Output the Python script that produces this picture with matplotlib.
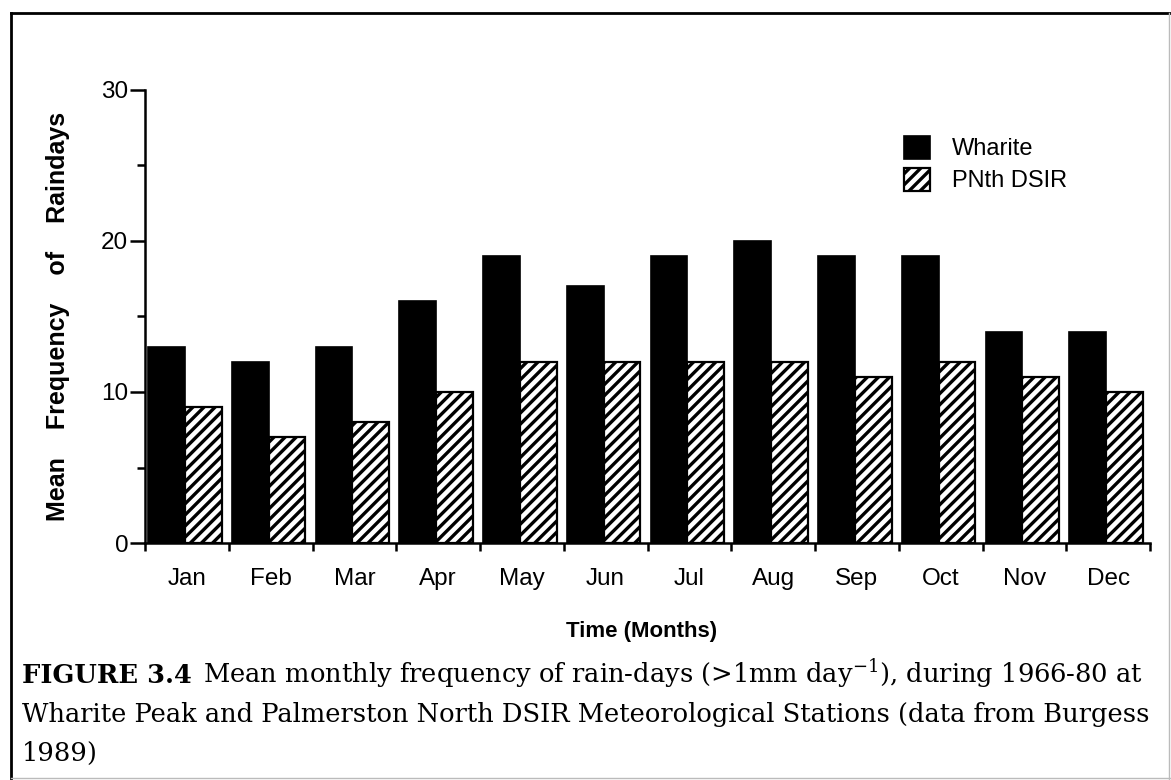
import matplotlib
matplotlib.use("Agg")
import matplotlib.pyplot as plt
from matplotlib.lines import Line2D
import numpy as np

months = ["Jan", "Feb", "Mar", "Apr", "May", "Jun", "Jul", "Aug", "Sep", "Oct", "Nov", "Dec"]
wharite = [13, 12, 13, 16, 19, 17, 19, 20, 19, 19, 14, 14]
pnth_dsir = [9, 7, 8, 10, 12, 12, 12, 12, 11, 12, 11, 10]
series_names = ["Wharite", "PNth DSIR"]

W, H = 1171, 780
fig = plt.figure(figsize=(W / 100, H / 100), dpi=100)
fig.patch.set_facecolor("white")

ax = fig.add_axes([145 / W, 1 - 543 / H, (1150 - 145) / W, (543 - 90) / H])

plt.rcParams["hatch.linewidth"] = 2.4
x = np.arange(len(months))
bw = 0.44
off = -0.5 + 0.036
ax.bar(x + off, wharite, width=bw, align="edge", color="black",
       edgecolor="black", linewidth=1.2, label=series_names[0])
ax.bar(x + off + bw, pnth_dsir, width=bw, align="edge", color="white",
       edgecolor="black", hatch="///", linewidth=1.6, label=series_names[1])

ax.set_xlim(-0.5, len(months) - 0.5)
ax.set_ylim(0, 30)

for s in ["top", "right"]:
    ax.spines[s].set_visible(False)
for s in ["left", "bottom"]:
    ax.spines[s].set_linewidth(1.8)

sans = "Liberation Sans"
ax.set_yticks([0, 10, 20, 30])
ax.set_yticks([5, 15, 25], minor=True)
ax.tick_params(axis="y", which="major", length=11, width=1.8, pad=1,
               labelsize=17.5, direction="out")
ax.tick_params(axis="y", which="minor", length=6, width=1.8, direction="out")

ax.set_xticks(np.arange(-0.5, len(months), 1.0))
ax.set_xticklabels([])
ax.set_xticks(x, minor=True)
ax.set_xticklabels(months, minor=True)
ax.tick_params(axis="x", which="major", length=6, width=1.8, direction="out")
ax.tick_params(axis="x", which="minor", length=0, pad=18, labelsize=17.5)

for lab in ax.get_xticklabels(minor=True) + ax.get_yticklabels():
    lab.set_fontfamily(sans)

ax.set_ylabel("Mean    Frequency    of    Raindays", fontfamily=sans,
              fontweight="bold", fontsize=18)
ax.yaxis.set_label_coords(-(145 - 58) / (1150 - 145), (543 - 316) / (543 - 90))
ax.set_xlabel("Time (Months)", fontfamily=sans, fontweight="bold", fontsize=16)
ax.xaxis.set_label_coords((642 - 145) / (1150 - 145), -(632 - 543) / (543 - 90))
ax.xaxis.label.set_va("center")
ax.yaxis.label.set_va("center")

ax.legend(loc="upper left", bbox_to_anchor=(904 / W, 1 - 136 / H),
          bbox_transform=fig.transFigure, frameon=False,
          prop={"family": sans, "size": 17},
          handlelength=1.08, handleheight=1.1, handletextpad=0.95,
          labelspacing=0.32, borderaxespad=0, borderpad=0)

# caption
serif = "DejaVu Serif"
renderer = fig.canvas.get_renderer()
line2 = "Wharite Peak and Palmerston North DSIR Meteorological Stations (data from Burgess"
probe = fig.text(0, 0, line2, fontfamily=serif, fontsize=20)
w20 = probe.get_window_extent(renderer).width
probe.remove()
cap_size = 20 * 1128 / w20

x0 = 22 / W
t_bold = fig.text(x0, 1 - 683 / H, "FIGURE 3.4", fontfamily=serif,
                  fontweight="bold", fontsize=cap_size, va="baseline", ha="left")
bw_px = t_bold.get_window_extent(renderer).width
fig.text(x0 + (bw_px + 11) / W, 1 - 683 / H,
         r"Mean monthly frequency of rain-days (>1mm day$^{\mathregular{-1}}$), during 1966-80 at",
         fontfamily=serif, fontsize=cap_size, va="baseline", ha="left",
         math_fontfamily="dejavuserif")
fig.text(x0, 1 - 722 / H, line2,
         fontfamily=serif, fontsize=cap_size, va="baseline", ha="left")
fig.text(x0, 1 - 761 / H, "1989)",
         fontfamily=serif, fontsize=cap_size, va="baseline", ha="left")

# frame
fig.add_artist(Line2D([11 / W, 11 / W], [0, 1 - 13 / H], color="black", lw=2.0,
                      transform=fig.transFigure))
fig.add_artist(Line2D([11 / W, 1], [1 - 13 / H, 1 - 13 / H], color="black", lw=2.0,
                      transform=fig.transFigure))
fig.add_artist(Line2D([1169 / W, 1169 / W], [0, 1 - 13 / H], color="#bbbbbb", lw=1.0,
                      transform=fig.transFigure))
fig.add_artist(Line2D([11 / W, 1], [2 / H, 2 / H], color="#bbbbbb", lw=1.0,
                      transform=fig.transFigure))

fig.savefig("out.png", dpi=100)
